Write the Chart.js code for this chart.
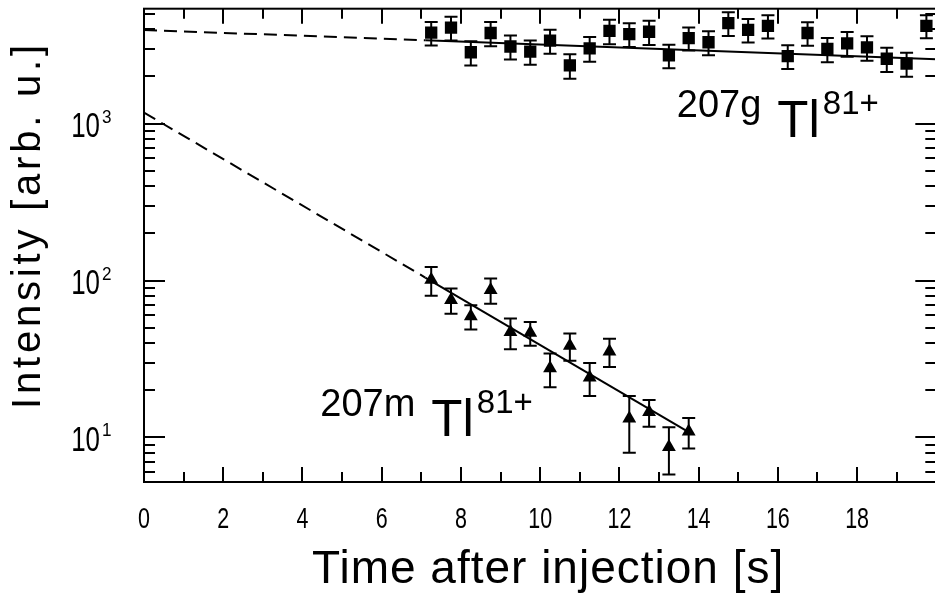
<!DOCTYPE html>
<html>
<head>
<meta charset="utf-8">
<script src="https://cdn.jsdelivr.net/npm/chart.js@4.4.1/dist/chart.umd.min.js"></script>
<style>
  html, body { margin: 0; padding: 0; background: #fff; overflow: hidden; }
  #wrap { position: relative; width: 945px; height: 597px; }
  canvas { display: block; }
</style>
</head>
<body>
<div id="wrap"><canvas id="decay" width="945" height="597"></canvas></div>
<script>
// 207g Tl81+ (ground state): time after injection [s], intensity [arb. u.], error
const groundTime = [7.25, 7.75, 8.25, 8.75, 9.25, 9.75, 10.25, 10.75, 11.25, 11.75, 12.25, 12.75, 13.25,
                    13.75, 14.25, 14.75, 15.25, 15.75, 16.25, 16.75, 17.25, 17.75, 18.25, 18.75, 19.25, 19.75];
const groundIntensity = [3800, 4090, 2850, 3780, 3100, 2880, 3380, 2350, 3020, 3900, 3720, 3850, 2720,
                         3510, 3300, 4370, 3960, 4200, 2690, 3780, 2990, 3250, 3060, 2590, 2410, 4200];
const groundError = [650, 700, 500, 670, 540, 510, 590, 415, 540, 700, 640, 680, 465,
                     590, 575, 750, 675, 710, 465, 650, 525, 580, 540, 455, 420, 700];

// 207m Tl81+ (isomer)
const isomerTime = [7.25, 7.75, 8.25, 8.75, 9.25, 9.75, 10.25, 10.75, 11.25, 11.75, 12.25, 12.75, 13.25, 13.75];
const isomerIntensity = [101, 75.2, 59.2, 87, 46.9, 46.4, 27.6, 38.4, 24.1, 35.3, 13.2, 14.5, 8.7, 10.9];
const isomerError = [21, 13.8, 10.5, 16, 10.4, 8, 6.7, 7.6, 5.7, 7.2, 5.2, 2.8, 2.9, 2.4];

// Exponential fits (straight on the log axis): dashed extrapolation to t = 0, solid over the fit range
const groundFitTime = [0, 7.1, 20];
const groundFitIntensity = [3950, 3400, 2570];
const isomerFitTime = [0, 7.1, 13.75];
const isomerFitIntensity = [1175, 104.5, 10.8];

// Axis labelling
const xTickLabels = [0, 2, 4, 6, 8, 10, 12, 14, 16, 18];
const yDecadeExponents = [1, 2, 3];
const xTitle = 'Time after injection [s]';
const yTitle = 'Intensity [arb. u.]';

const SANS = '"Liberation Sans", Arial, sans-serif';

const pts = (xs, ys, from, to) => xs.slice(from, to).map((x, i) => ({ x, y: ys[from + i] }));

function segment(data, dashed) {
  return {
    type: 'line', data, showLine: true, borderColor: '#000', borderWidth: 2,
    borderDash: dashed ? [13, 7] : [], pointRadius: 0, fill: false, tension: 0
  };
}

// text squeezed horizontally (narrow numerals)
function narrowText(ctx, text, x, y, align, squeeze) {
  ctx.save();
  ctx.translate(x, y);
  ctx.scale(squeeze, 1);
  ctx.textAlign = align;
  ctx.fillText(text, 0, 0);
  ctx.restore();
}

// error bars, frame with inward ticks, superscript labels, titles and isotope tags
const decorations = {
  id: 'decorations',
  beforeDatasetsDraw(chart) {
    const { ctx, chartArea: a } = chart;
    const xs = chart.scales.x, ys = chart.scales.y;
    ctx.save();
    ctx.beginPath();
    ctx.rect(a.left, a.top, a.right - a.left, a.bottom - a.top);
    ctx.clip();
    ctx.strokeStyle = '#000';
    ctx.lineWidth = 2;
    const bars = (ts, vs, es) => ts.forEach((t, i) => {
      const px = xs.getPixelForValue(t);
      const hi = ys.getPixelForValue(vs[i] + es[i]);
      const lo = ys.getPixelForValue(vs[i] - es[i]);
      ctx.beginPath();
      ctx.moveTo(px, hi); ctx.lineTo(px, lo);
      ctx.moveTo(px - 6.5, hi); ctx.lineTo(px + 6.5, hi);
      ctx.moveTo(px - 6.5, lo); ctx.lineTo(px + 6.5, lo);
      ctx.stroke();
    });
    bars(groundTime, groundIntensity, groundError);
    bars(isomerTime, isomerIntensity, isomerError);
    ctx.restore();
  },
  afterDraw(chart) {
    const { ctx, chartArea: a } = chart;
    const xs = chart.scales.x, ys = chart.scales.y;
    ctx.save();
    ctx.strokeStyle = '#000';
    ctx.fillStyle = '#000';
    ctx.lineWidth = 2;
    ctx.lineCap = 'butt';
    ctx.textBaseline = 'alphabetic';
    const line = (x1, y1, x2, y2) => { ctx.beginPath(); ctx.moveTo(x1, y1); ctx.lineTo(x2, y2); ctx.stroke(); };

    // frame
    ctx.strokeRect(a.left, a.top, a.right - a.left, a.bottom - a.top);

    // x ticks: long at even seconds, short at odd seconds (bottom and top)
    for (let t = xs.min + 1; t < xs.max; t++) {
      const px = Math.round(xs.getPixelForValue(t));
      const len = t % 2 === 0 ? 15 : 10;
      line(px, a.bottom, px, a.bottom - len);
      line(px, a.top, px, a.top + len);
    }
    // y ticks: decades long, 2..9 short (left and right)
    for (let e = 0; e <= 3; e++) {
      for (let k = 1; k <= 9; k++) {
        const v = k * Math.pow(10, e);
        if (v < ys.min || v > ys.max) continue;
        const py = Math.round(ys.getPixelForValue(v));
        const len = k === 1 ? 21 : 11;
        line(a.left, py, a.left + len, py);
        line(a.right, py, a.right - len, py);
      }
    }

    // x tick labels
    ctx.font = '29px ' + SANS;
    xTickLabels.forEach(v => narrowText(ctx, String(v), xs.getPixelForValue(v), a.bottom + 46, 'center', 0.74));

    // y tick labels 10^n
    yDecadeExponents.forEach(e => {
      const py = ys.getPixelForValue(Math.pow(10, e));
      ctx.font = '35px ' + SANS;
      narrowText(ctx, '10', a.left - 44, py + 13.5, 'right', 0.74);
      ctx.font = '19px ' + SANS;
      narrowText(ctx, String(e), a.left - 42, py - 1, 'left', 0.9);
    });

    // axis titles
    ctx.textAlign = 'center';
    ctx.font = '46px ' + SANS;
    ctx.letterSpacing = '1px';
    ctx.fillText(xTitle, (a.left + a.right) / 2 + 8, a.bottom + 101);
    ctx.save();
    ctx.translate(a.left - 104, 225);
    ctx.rotate(-Math.PI / 2);
    ctx.font = '40px ' + SANS;
    ctx.letterSpacing = '3.8px';
    ctx.fillText(yTitle, 0, 0);
    ctx.restore();
    ctx.letterSpacing = '0px';

    // isotope tags
    const tag = (t, v, mass) => {
      const x = xs.getPixelForValue(t), y = ys.getPixelForValue(v);
      ctx.textAlign = 'left';
      ctx.font = '38px ' + SANS;
      ctx.fillText(mass, x, y);
      const x2 = x + ctx.measureText(mass).width + 16;
      ctx.font = '51px ' + SANS;
      ctx.fillText('Tl', x2, y + 20);
      const x3 = x2 + ctx.measureText('Tl').width + 3;
      ctx.font = '33px ' + SANS;
      ctx.fillText('81+', x3, y - 3);
    };
    tag(13.45, 1107, '207g');
    tag(4.45, 13.75, '207m');
    ctx.restore();
  }
};

new Chart(document.getElementById('decay'), {
  type: 'scatter',
  data: {
    datasets: [
      segment(pts(groundFitTime, groundFitIntensity, 0, 2), true),
      segment(pts(groundFitTime, groundFitIntensity, 1, 3), false),
      segment(pts(isomerFitTime, isomerFitIntensity, 0, 2), true),
      segment(pts(isomerFitTime, isomerFitIntensity, 1, 3), false),
      {
        label: '207g Tl81+', data: pts(groundTime, groundIntensity, 0),
        pointStyle: 'rect', pointRadius: 8.7, backgroundColor: '#000', borderWidth: 0, showLine: false
      },
      {
        label: '207m Tl81+', data: pts(isomerTime, isomerIntensity, 0),
        pointStyle: 'triangle', pointRadius: 8, backgroundColor: '#000', borderWidth: 0, showLine: false
      }
    ]
  },
  options: {
    responsive: false,
    animation: false,
    layout: { padding: { left: 144, top: 3, right: 1, bottom: 115 } },
    plugins: { legend: { display: false }, tooltip: { enabled: false } },
    scales: {
      x: { type: 'linear', min: 0, max: 20, display: false },
      y: { type: 'logarithmic', min: 5.2, max: 5400, display: false }
    }
  },
  plugins: [decorations]
});
</script>
</body>
</html>
